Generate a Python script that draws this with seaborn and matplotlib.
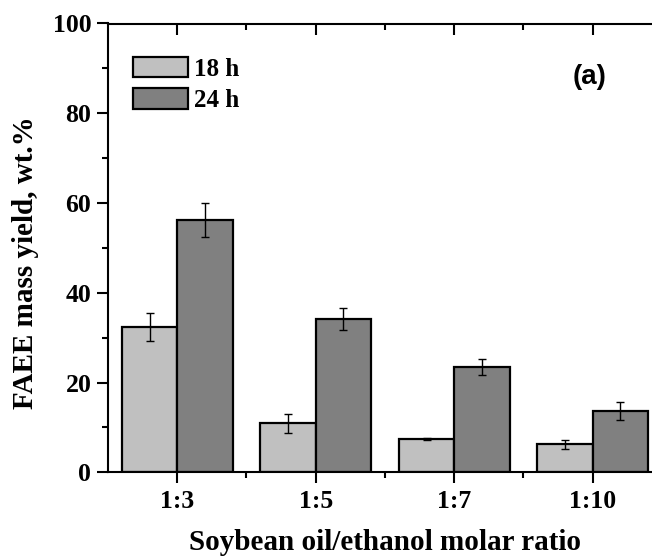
import matplotlib
matplotlib.use("Agg")
import matplotlib.pyplot as plt
import seaborn as sns
import pandas as pd
from matplotlib.ticker import MultipleLocator

ratios = ["1:3", "1:5", "1:7", "1:10"]
times = ["18 h", "24 h"]
yield_18h = [32.3, 10.9, 7.4, 6.2]
yield_24h = [56.3, 34.2, 23.5, 13.6]
err_18h = [3.1, 2.2, 0.3, 0.9]
err_24h = [3.8, 2.5, 1.8, 2.05]

df = pd.DataFrame({
    "ratio": ratios * 2,
    "time": [times[0]] * 4 + [times[1]] * 4,
    "yield": yield_18h + yield_24h,
})

sns.set_style("ticks", {"axes.edgecolor": "black", "text.color": "black",
                        "axes.labelcolor": "black", "xtick.color": "black",
                        "ytick.color": "black"})
plt.rcParams["font.family"] = ["Liberation Serif", "DejaVu Serif"]
plt.rcParams["font.weight"] = "bold"

fig = plt.figure(figsize=(6.52, 5.56), dpi=100)
W, H = 652, 556
left, right, top, bottom = 108, 662, 23.5, 472.3
aw, ah = right - left, bottom - top
ax = fig.add_axes([left / W, (H - bottom) / H, aw / W, ah / H])

sns.barplot(data=df, x="ratio", y="yield", hue="time", order=ratios, hue_order=times,
            palette=["#c0c0c0", "#808080"], edgecolor="black", linewidth=1.6,
            width=0.8, errorbar=None, ax=ax, saturation=1)

for cont, errs in zip(ax.containers, [err_18h, err_24h]):
    for patch, e in zip(cont.patches, errs):
        xc = patch.get_x() + patch.get_width() / 2
        ax.errorbar(xc, patch.get_height(), yerr=e, fmt="none", ecolor="black",
                    elinewidth=1.0, capsize=3, capthick=1.0)

ax.set_xlim(-0.5, 3.5)
ax.set_ylim(0, 100)
ax.yaxis.set_major_locator(MultipleLocator(20))
ax.yaxis.set_minor_locator(MultipleLocator(10))
ax.set_xticks(range(4))
ax.set_xticks([0.5, 1.5, 2.5, 3.5], minor=True)
ax.set_xticklabels(ratios)

for s in ["left", "bottom", "top"]:
    ax.spines[s].set_linewidth(1.5)
    ax.spines[s].set_color("black")
ax.spines["right"].set_visible(False)

ax.tick_params(axis="y", which="major", direction="out", length=8, width=1.5,
               labelsize=18.5, pad=4, colors="black")
ax.tick_params(axis="y", which="minor", direction="out", length=4, width=1.5, colors="black")
ax.tick_params(axis="x", which="major", direction="out", length=8, width=1.5,
               labelsize=18.5, pad=5, top=True, colors="black")
ax.tick_params(axis="x", which="minor", direction="out", length=4, width=1.5, top=True,
               colors="black")
for t in ax.xaxis.get_major_ticks() + ax.xaxis.get_minor_ticks():
    t.tick2line.set_marker(3)
for t in ax.xaxis.get_major_ticks():
    t.tick2line.set_markersize(8)
for t in ax.xaxis.get_minor_ticks():
    t.tick2line.set_markersize(4)

for lab in ax.get_xticklabels() + ax.get_yticklabels():
    lab.set_fontweight("bold")

ax.set_xlabel("Soybean oil/ethanol molar ratio", fontsize=21, fontweight="bold",
              va="center", color="black")
ax.xaxis.set_label_coords(0.5, (bottom - 543) / ah)
ax.set_ylabel("FAEE mass yield, wt.%", fontsize=21, fontweight="bold", va="center",
              color="black")
ax.yaxis.set_label_coords((26 - left) / aw, 1 - (262.5 - top) / ah)

leg = ax.legend(loc="upper left",
                bbox_to_anchor=((133 - left) / aw, 1 - (57 - top) / ah),
                frameon=False, fontsize=18, handlelength=2.2, handleheight=0.88,
                handletextpad=0.25, labelspacing=0.3, borderaxespad=0, borderpad=0)
for t in leg.get_texts():
    t.set_fontweight("bold")
    t.set_color("black")

ax.text((590 - left) / aw, 1 - (77 - top) / ah, "(a)",
        transform=ax.transAxes, fontsize=20, fontweight="bold", color="black",
        family=["Liberation Sans", "DejaVu Sans"], ha="center", va="center")

fig.savefig("out.png", dpi=100)
